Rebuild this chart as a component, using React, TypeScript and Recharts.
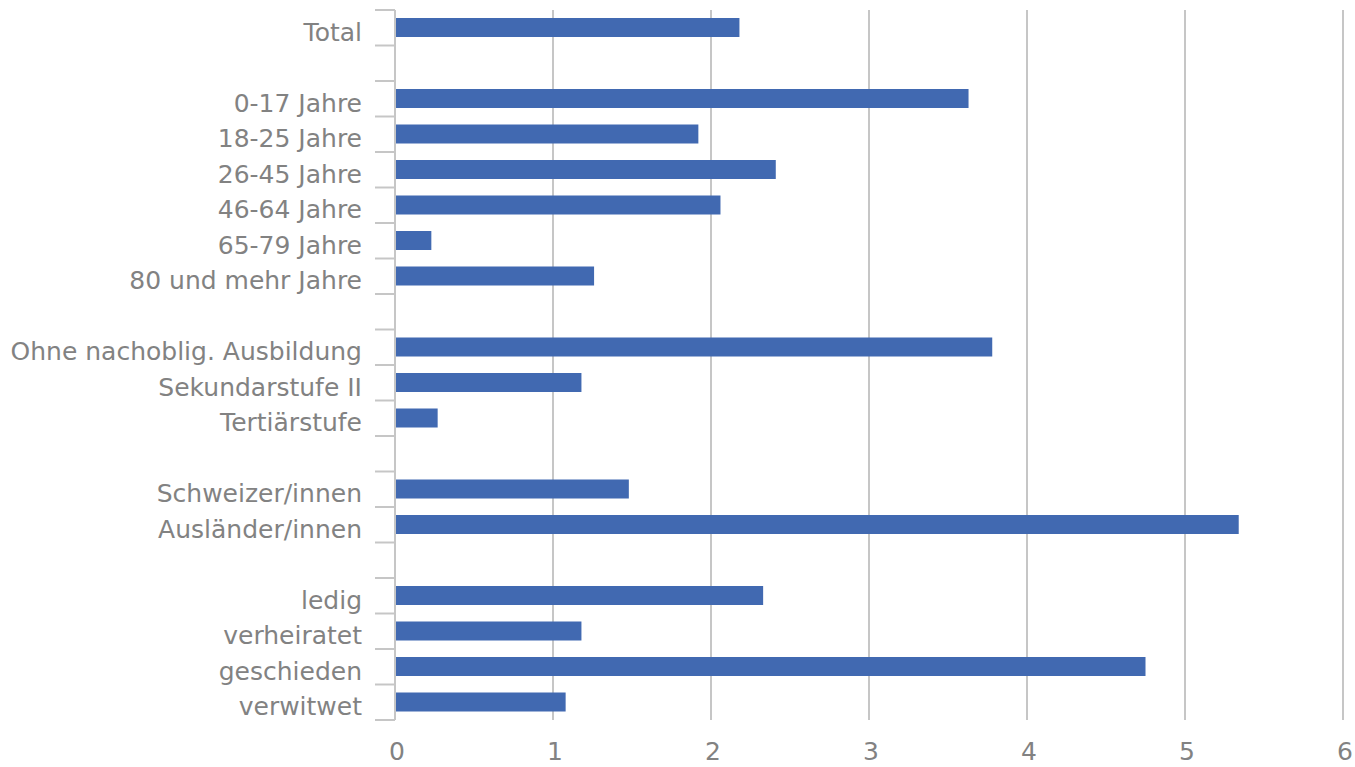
import { BarChart, Bar, XAxis, YAxis, CartesianGrid } from "recharts";

const categories = [
  "Total",
  "",
  "0-17 Jahre",
  "18-25 Jahre",
  "26-45 Jahre",
  "46-64 Jahre",
  "65-79 Jahre",
  "80 und mehr Jahre",
  "",
  "Ohne nachoblig. Ausbildung",
  "Sekundarstufe II",
  "Tertiärstufe",
  "",
  "Schweizer/innen",
  "Ausländer/innen",
  "",
  "ledig",
  "verheiratet",
  "geschieden",
  "verwitwet",
];

const values: (number | null)[] = [
  2.18, null, 3.63, 1.92, 2.41, 2.06, 0.23, 1.26, null, 3.78, 1.18, 0.27, null, 1.48, 5.34, null, 2.33,
  1.18, 4.75, 1.08,
];

const xTicks = [0, 1, 2, 3, 4, 5, 6];

const data = categories.map((name, i) => ({ id: i, name, value: values[i] }));

const FONT = "DejaVu Sans";
const TEXT = "#828282";
const LINE = "#c6c6c6";
const BAR = "#4169b1";

const CHART_W = 1355;
const CHART_H = 767;
const TOP = 10;
const BOTTOM_AXIS = 47;
const band = (CHART_H - TOP - BOTTOM_AXIS) / categories.length;

const CategoryTick = (props: any) => {
  const { x, y, payload, index } = props;
  const axisX = x + 33;
  return (
    <g>
      {index === 0 && (
        <line x1={axisX - 20} x2={axisX} y1={y - band / 2} y2={y - band / 2} stroke={LINE} strokeWidth={2} />
      )}
      <line x1={axisX - 20} x2={axisX} y1={y + band / 2} y2={y + band / 2} stroke={LINE} strokeWidth={2} />
      <text x={x} y={y} dy={13} textAnchor="end" fill={TEXT} fontSize={25} fontFamily={FONT}>
        {categories[payload.value]}
      </text>
    </g>
  );
};

const ValueTick = (props: any) => {
  const { x, y, payload } = props;
  return (
    <text x={x + 2} y={y} dy={18} textAnchor="middle" fill={TEXT} fontSize={25} fontFamily={FONT}>
      {payload.value}
    </text>
  );
};

export default function App() {
  return (
    <div style={{ position: "absolute", left: 0, top: 0, background: "#fff", fontFamily: FONT }}>
      <BarChart
        width={CHART_W}
        height={CHART_H}
        data={data}
        layout="vertical"
        margin={{ top: TOP, right: 12, bottom: 0, left: 0 }}
        barSize={19}
      >
        <CartesianGrid horizontal={false} vertical stroke={LINE} strokeWidth={2} />
        <XAxis
          type="number"
          domain={[0, 6]}
          ticks={xTicks}
          axisLine={false}
          tickLine={false}
          tickSize={0}
          tickMargin={22}
          height={BOTTOM_AXIS}
          tick={<ValueTick />}
        />
        <YAxis
          type="category"
          dataKey="id"
          width={395}
          axisLine={{ stroke: LINE, strokeWidth: 2 }}
          tickLine={false}
          tickSize={0}
          tickMargin={33}
          interval={0}
          tick={<CategoryTick />}
        />
        <Bar dataKey="value" fill={BAR} isAnimationActive={false} />
      </BarChart>
    </div>
  );
}
